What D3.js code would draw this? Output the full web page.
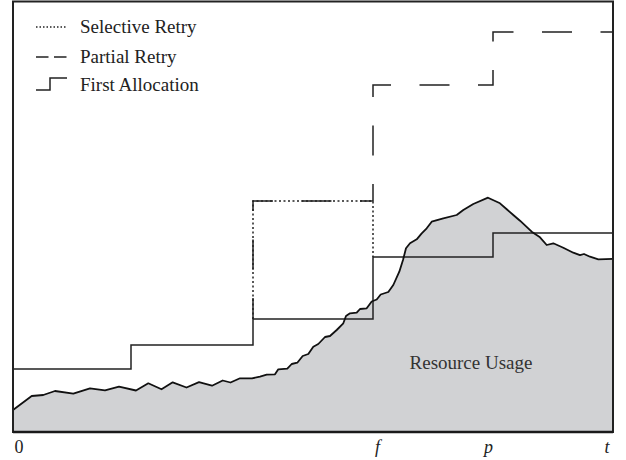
<!DOCTYPE html>
<html lang="en">
<head>
<meta charset="utf-8" />
<title>Resource usage and allocation</title>
<script src="https://cdn.jsdelivr.net/npm/d3@7/dist/d3.min.js"></script>
<style>
  body { margin: 0; background: #fff; }
  text { font-family: "Liberation Serif", "Times New Roman", serif; fill: #222; }
</style>
</head>
<body>
<svg width="626" height="460"></svg>
<script>
// usage curve (time, usage)
var usageTime = [0, 18.7, 30.3, 42, 60.3, 77, 92, 106, 123, 135.3, 148.5, 159.7, 173.5, 186, 199, 209.7, 217.5, 227, 239, 247,
  253.7, 262, 265.3, 274.3, 278.7, 284.3, 289.7, 295.3, 300.3, 305.3, 312, 317, 323.7, 330.3, 333, 337, 343.7, 347, 353.7, 358.7,
  363.7, 367.7, 375.3, 380.3, 386.3, 390, 393, 397, 403.7, 408.7, 413.7, 418.7, 430.3, 443.7, 450.3, 460.3, 475, 487, 494, 500.3,
  507, 518.7, 527, 533.7, 540.3, 550.3, 560.3, 567, 571, 577, 585.3, 600];
var usageValue = [22, 36, 37, 41, 38.3, 43.7, 41.7, 45.3, 41.5, 48.7, 42.7, 49.7, 44.5, 49.8, 46.3, 51.5, 49.5, 53.7, 53.7, 55.3,
  57.3, 57.7, 62.7, 63.3, 68, 69.3, 76, 78, 85.3, 88, 95, 96, 102, 108.7, 116, 118.7, 119.3, 123, 123.7, 130.5,
  132.5, 137.5, 140, 147, 160.3, 172, 183.7, 188.7, 192.7, 198.7, 203.7, 210.3, 213.7, 217, 222, 228, 234.3, 228.7, 222.5, 217,
  211.3, 200.3, 194.7, 187, 188.7, 184.3, 179.3, 176.8, 178, 175.3, 172.7, 173.2];

// first allocation steps
var allocTime = [0, 118, 240, 360, 480, 600];
var allocLevel = [63, 87, 113, 175, 199, 199];

// selective retry
var selTime = [240, 240, 360, 360];
var selLevel = [113, 231, 231, 175];

// partial retry
var partTime = [240, 240, 360, 360, 480, 480, 600];
var partLevel = [113, 231, 231, 347, 347, 400, 400];

var tickVals = [0, 360, 475, 600];
var tickLabels = ["0", "f", "p", "t"];
var legendLabels = ["Selective Retry", "Partial Retry", "First Allocation"];

var svg = d3.select("svg");
var x = d3.scaleLinear().domain([0, 600]).range([13, 613]);
var y = d3.scaleLinear().domain([0, 430]).range([432, 2]);

var usage = usageTime.map(function (t, i) { return [t, usageValue[i]]; });
var alloc = allocTime.map(function (t, i) { return [t, allocLevel[i]]; });
var sel = selTime.map(function (t, i) { return [t, selLevel[i]]; });
var part = partTime.map(function (t, i) { return [t, partLevel[i]]; });

var line = d3.line().x(function (d) { return x(d[0]); }).y(function (d) { return y(d[1]); });

svg.append("path")
  .datum(usage)
  .attr("fill", "#d1d2d4")
  .attr("d", d3.area().x(function (d) { return x(d[0]); }).y0(y(0)).y1(function (d) { return y(d[1]); }));

svg.append("path")
  .datum(alloc)
  .attr("fill", "none").attr("stroke", "#222").attr("stroke-width", 1.5)
  .attr("d", line.curve(d3.curveStepAfter));
line.curve(d3.curveLinear);

svg.append("path")
  .datum(sel)
  .attr("fill", "none").attr("stroke", "#222").attr("stroke-width", 1.5)
  .attr("stroke-dasharray", "2,2.5")
  .attr("d", line);

svg.append("path")
  .datum(part)
  .attr("fill", "none").attr("stroke", "#222").attr("stroke-width", 1.5)
  .attr("stroke-dasharray", "30,28.5").attr("stroke-dashoffset", 9)
  .attr("d", line);

svg.append("path")
  .datum(usage)
  .attr("fill", "none").attr("stroke", "#111").attr("stroke-width", 1.8)
  .attr("stroke-linejoin", "round")
  .attr("d", line);

// frame
svg.append("rect")
  .attr("x", x(0)).attr("y", 1.5)
  .attr("width", x(600) - x(0)).attr("height", y(0) - 1.5)
  .attr("fill", "none").attr("stroke", "#222").attr("stroke-width", 2);
svg.append("line")
  .attr("x1", x(0)).attr("x2", x(600)).attr("y1", y(0)).attr("y2", y(0))
  .attr("stroke", "#1a1a1a").attr("stroke-width", 2.6);

// axis labels
var axis = svg.append("g")
  .attr("transform", "translate(0," + y(0) + ")")
  .call(d3.axisBottom(x).tickValues(tickVals)
    .tickFormat(function (d, i) { return tickLabels[i]; })
    .tickSize(0).tickPadding(8));
axis.select(".domain").remove();
axis.selectAll("text")
  .attr("font-size", 18)
  .attr("font-family", "Liberation Serif, serif")
  .attr("fill", "#222")
  .attr("font-style", function (d, i) { return i === 0 ? "normal" : "italic"; })
  .attr("text-anchor", function (d, i) { return i === 0 ? "start" : (i === tickVals.length - 1 ? "end" : "middle"); })
  .attr("dx", function (d, i) { return i === 0 ? 1 : (i === 1 ? 4 : (i === tickVals.length - 1 ? -4 : 0)); });

svg.append("text")
  .attr("x", x(458)).attr("y", 369)
  .attr("text-anchor", "middle")
  .attr("font-size", 19)
  .style("fill", "#333")
  .text("Resource Usage");

// legend
var leg = svg.append("g");
var legY = [27, 57, 85];
legendLabels.forEach(function (label, i) {
  leg.append("text")
    .attr("x", 80).attr("y", legY[i] + 6)
    .attr("font-size", 19)
    .text(label);
});
leg.append("line")
  .attr("x1", 36).attr("x2", 67).attr("y1", legY[0]).attr("y2", legY[0])
  .attr("stroke", "#222").attr("stroke-width", 1.3).attr("stroke-dasharray", "1.5,2");
leg.append("line")
  .attr("x1", 36).attr("x2", 67).attr("y1", legY[1]).attr("y2", legY[1])
  .attr("stroke", "#222").attr("stroke-width", 1.5).attr("stroke-dasharray", "12.5,5.5");
leg.append("path")
  .attr("d", "M36," + (legY[2] + 5) + "H50V" + (legY[2] - 7) + "H67")
  .attr("fill", "none").attr("stroke", "#222").attr("stroke-width", 1.5);
</script>
</body>
</html>
